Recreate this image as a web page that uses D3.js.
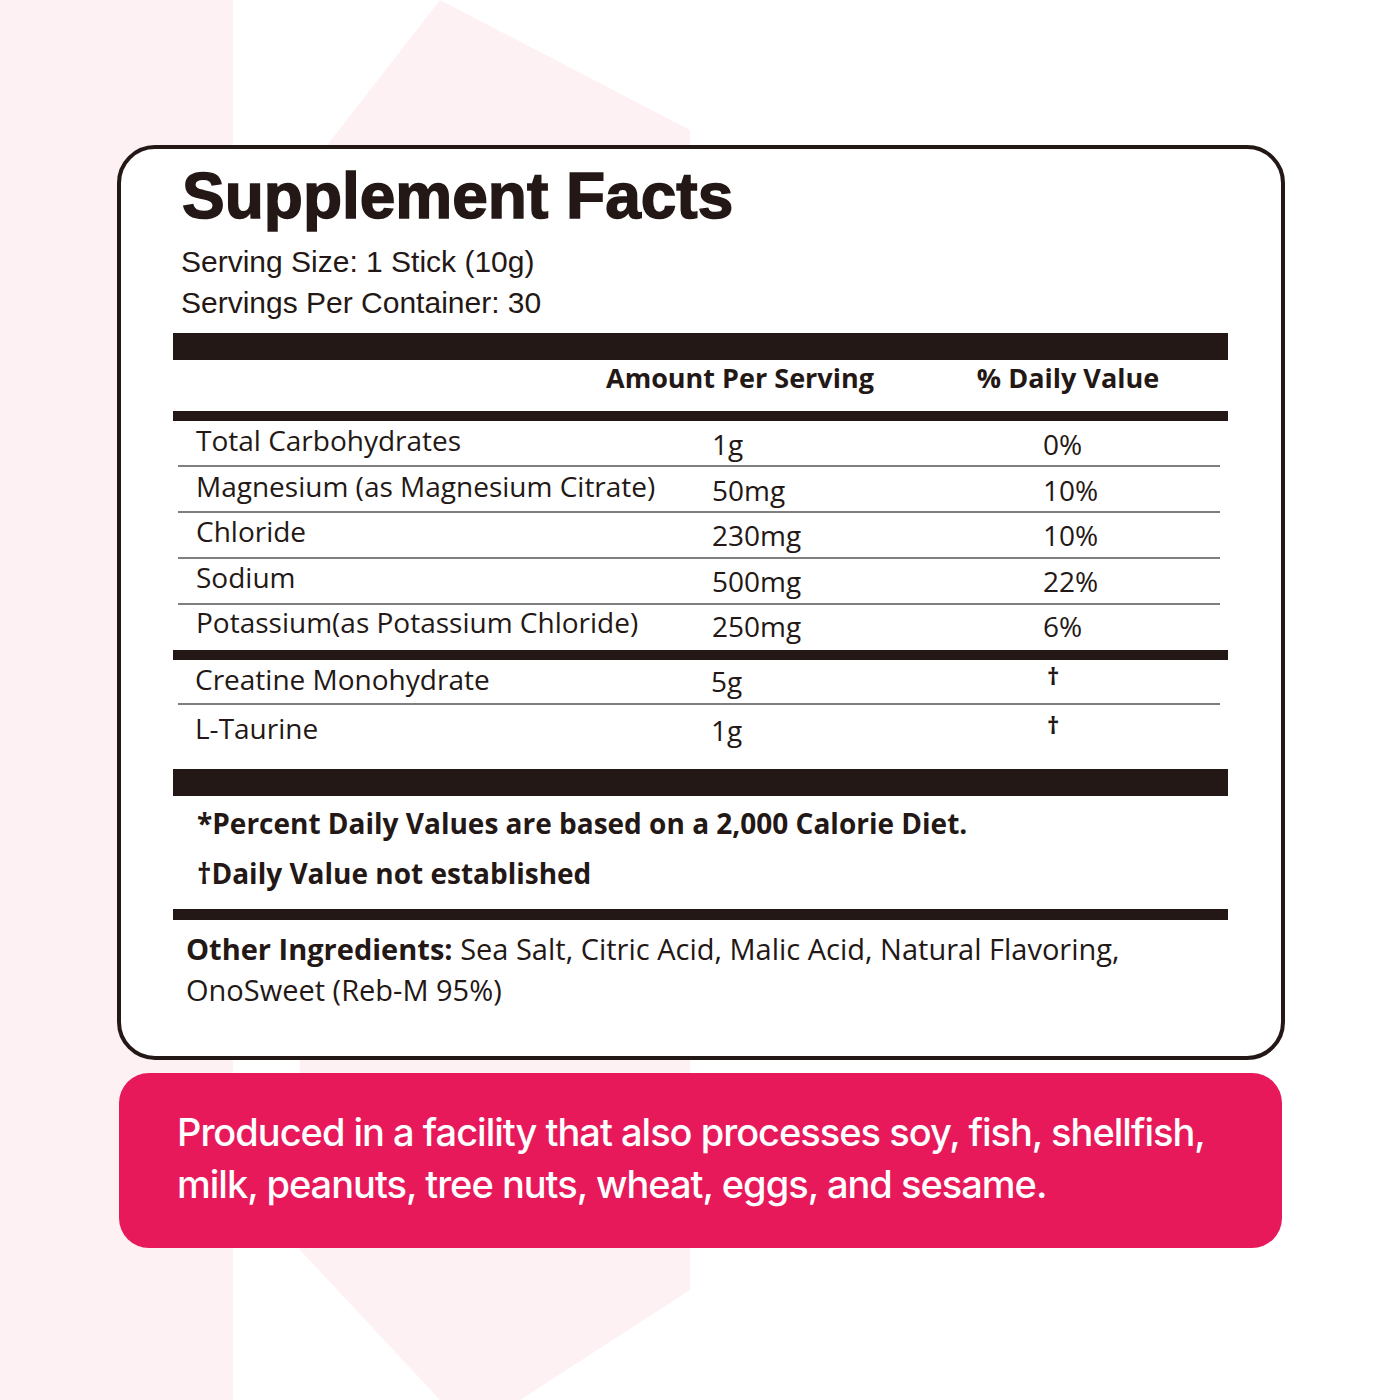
<!DOCTYPE html>
<html><head><meta charset="utf-8">
<script src="https://cdn.jsdelivr.net/npm/d3@7"></script>
<style>body{margin:0;background:#fff}svg{display:block}</style>
</head><body>
<script>
const nutrients = ["Total Carbohydrates","Magnesium (as Magnesium Citrate)","Chloride","Sodium","Potassium(as Potassium Chloride)"];
const amounts = ["1g","50mg","230mg","500mg","250mg"];
const dailyValues = ["0%","10%","10%","22%","6%"];
const others = ["Creatine Monohydrate","L-Taurine"];
const otherAmounts = ["5g","1g"];
const otherDV = ["†","†"];

const W=1400,H=1400,ink="#231815";
const svg=d3.select("body").append("svg").attr("width",W).attr("height",H);
// background
svg.append("rect").attr("x",0).attr("y",0).attr("width",233).attr("height",H).attr("fill","#fdf1f4");
svg.append("path").attr("d","M440,0 L690,130 L690,1290 L520,1400 L440,1400 L300,1250 L300,180 Z").attr("fill","#fdf1f4");
// card
svg.append("rect").attr("x",119).attr("y",147).attr("width",1164).attr("height",911).attr("rx",36)
 .attr("fill","#fff").attr("stroke",ink).attr("stroke-width",4);
const T=(x,y,s,o={})=>svg.append("text").attr("x",x).attr("y",y).text(s)
 .attr("font-family",o.f||"'Open Sans'").attr("font-size",o.fs||28).attr("font-weight",o.w||400)
 .attr("fill",o.c||ink).attr("text-anchor",o.a||"start");
T(182,218,"Supplement Facts",{f:"'Liberation Sans',Arial",fs:64,w:900}).attr("stroke",ink).attr("stroke-width",1.5);
T(181,272,"Serving Size: 1 Stick (10g)",{f:"'Liberation Sans',Arial",fs:30});
T(181,313,"Servings Per Container: 30",{f:"'Liberation Sans',Arial",fs:30});
const bar=(y,h)=>svg.append("rect").attr("x",173).attr("y",y).attr("width",1055).attr("height",h).attr("fill",ink);
bar(333,27);bar(411,10);bar(650,10);bar(769,27);bar(909,11);
T(740,388,"Amount Per Serving",{w:700,a:"middle",fs:27});
T(1068,388,"% Daily Value",{w:700,a:"middle",fs:27});
const y1=d3.scalePoint().domain(nutrients).range([451,633]);
const col={name:196,amt:712,dv:1043};
nutrients.forEach((n,i)=>{
  T(col.name,y1(n),n);T(col.amt,y1(n)+4,amounts[i]);T(col.dv,y1(n)+4,dailyValues[i]);
  if(i<nutrients.length-1) svg.append("line").attr("x1",178).attr("x2",1220).attr("y1",y1(n)+15+i*0.5).attr("y2",y1(n)+15+i*0.5).attr("stroke","#555").attr("stroke-width",1.5);
});
const y2=d3.scalePoint().domain(others).range([690,739]);
others.forEach((n,i)=>{
  T(195,y2(n),n);T(711,y2(n)+2,otherAmounts[i]);T(1047,y2(n)-5,otherDV[i],{fs:24,w:700});
});
svg.append("line").attr("x1",178).attr("x2",1220).attr("y1",704).attr("y2",704).attr("stroke","#555").attr("stroke-width",1.5);
T(197,834,"*Percent Daily Values are based on a 2,000 Calorie Diet.",{w:700,fs:28});
T(197,884,"†Daily Value not established",{w:700,fs:28});
const oi=T(186,960,"",{fs:29});
oi.append("tspan").attr("font-weight",700).text("Other Ingredients: ");
oi.append("tspan").text("Sea Salt, Citric Acid, Malic Acid, Natural Flavoring,");
T(186,1001,"OnoSweet (Reb-M 95%)",{fs:29});
// allergen box
svg.append("rect").attr("x",119).attr("y",1073).attr("width",1163).attr("height",175).attr("rx",30).attr("fill","#e8195b");
T(177,1146,"Produced in a facility that also processes soy, fish, shellfish,",{f:"Inter",fs:38,c:"#fff",w:500}).attr("letter-spacing",-1);
T(177,1198,"milk, peanuts, tree nuts, wheat, eggs, and sesame.",{f:"Inter",fs:38,c:"#fff",w:500}).attr("letter-spacing",-1);
</script>
</body></html>
